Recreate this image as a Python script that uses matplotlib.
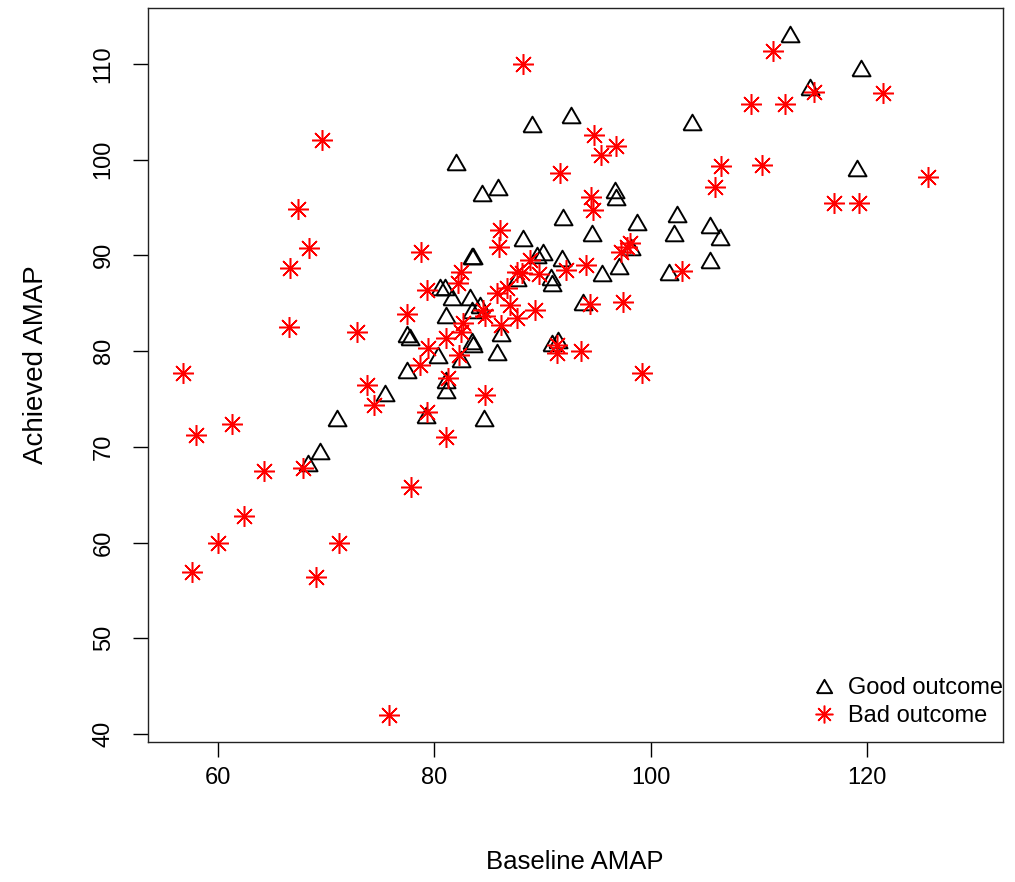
import matplotlib
matplotlib.use('Agg')
import matplotlib.pyplot as plt

plt.rcParams['font.family'] = ['Liberation Sans', 'DejaVu Sans']

# Good outcome (triangles)
good_baseline = [112.9, 114.7, 119.5, 119.1, 103.8, 92.6, 89.0, 82.0, 84.4, 85.9,
                 91.9, 96.7, 96.8, 98.7, 102.4, 102.2, 105.5, 106.4, 105.5, 101.7,
                 94.6, 95.5, 97.1, 98.2, 93.7, 91.8, 91.4, 88.2, 89.5, 90.0,
                 83.5, 83.6, 90.8, 90.9, 87.6, 80.5, 81.0, 81.6, 83.3, 84.2,
                 83.5, 81.1, 77.5, 77.7, 83.5, 83.6, 86.2, 85.8, 80.3, 82.5,
                 77.5, 81.1, 81.1, 75.4, 79.2, 84.6, 71.0, 69.4, 68.3, 90.9]
good_achieved = [113.1, 107.6, 109.6, 99.1, 103.9, 104.7, 103.7, 99.8, 96.5, 97.1,
                 94.0, 96.8, 96.1, 93.5, 94.3, 92.3, 93.2, 91.9, 89.5, 88.3,
                 92.3, 88.2, 88.9, 90.9, 85.1, 89.7, 81.2, 91.8, 90.0, 90.3,
                 89.9, 89.9, 87.7, 87.1, 87.6, 86.7, 86.7, 85.7, 85.7, 84.8,
                 84.3, 83.8, 81.8, 81.5, 81.0, 80.7, 81.9, 79.9, 79.6, 79.2,
                 78.0, 77.0, 75.9, 75.6, 73.3, 73.0, 73.0, 69.6, 68.3, 80.8]

# Bad outcome (asterisks)
bad_baseline = [88.2, 69.6, 91.6, 67.4, 68.4, 66.6, 66.5, 72.8, 78.8, 86.1,
                86.0, 82.5, 82.2, 79.3, 77.5, 89.3, 87.6, 87.0, 85.8, 86.7,
                88.8, 89.7, 87.6, 88.1, 92.2, 94.0, 84.5, 84.7, 82.6, 82.5,
                86.2, 81.1, 79.4, 78.7, 82.3, 91.3, 91.3, 93.6, 56.7, 57.9,
                61.3, 64.2, 67.8, 62.4, 60.0, 57.6, 71.2, 69.0, 73.8, 74.4,
                77.8, 75.8, 81.3, 79.3, 81.1, 84.7, 99.2, 111.3, 115.1, 121.5,
                109.3, 112.4, 94.8, 96.8, 95.4, 106.5, 110.3, 106.0, 125.7, 117.0,
                119.3, 94.5, 94.7, 98.1, 97.8, 97.3, 102.9, 94.4, 97.4]
bad_achieved = [110.0, 102.0, 98.6, 94.8, 90.8, 88.7, 82.5, 82.0, 90.3, 92.7,
                90.9, 88.3, 87.1, 86.4, 83.9, 84.3, 83.5, 84.8, 86.1, 86.6,
                89.5, 88.0, 88.3, 88.2, 88.5, 89.0, 84.3, 83.7, 82.9, 82.0,
                82.7, 81.4, 80.3, 78.5, 79.6, 80.6, 79.8, 80.0, 77.7, 71.2,
                72.4, 67.5, 67.8, 62.8, 60.0, 56.9, 60.0, 56.4, 76.5, 74.4,
                65.8, 42.0, 77.2, 73.6, 71.0, 75.4, 77.7, 111.4, 107.1, 107.0,
                105.8, 105.8, 102.6, 101.4, 100.5, 99.3, 99.4, 97.1, 98.2, 95.5,
                95.5, 96.1, 94.7, 91.3, 90.9, 90.3, 88.4, 84.9, 85.1]

xticks = [60, 80, 100, 120]
yticks = [40, 50, 60, 70, 80, 90, 100, 110]

tri = [(-1.0, -0.866), (1.0, -0.866), (0.0, 0.866), (-1.0, -0.866)]
star = (8, 2, 0)

fig = plt.figure(figsize=(10.15, 8.82), dpi=100)
ax = fig.add_axes([148 / 1015, 1 - 742 / 882, 855 / 1015, 734 / 882])

ax.plot(good_baseline, good_achieved, linestyle='none', marker=tri, markersize=13,
        mfc='none', mec='black', mew=1.4, label='Good outcome')
ax.plot(bad_baseline, bad_achieved, linestyle='none', marker=star, markersize=15,
        mec='red', color='red', mew=1.1, label='Bad outcome')

ax.set_xlim(53.5, 132.6)
ax.set_ylim(39.16, 115.84)
ax.set_xticks(xticks)
ax.set_yticks(yticks)
ax.tick_params(axis='both', direction='out', length=11, width=1.0, labelsize=17, color='black')
ax.tick_params(axis='x', pad=7)
ax.tick_params(axis='y', pad=13, labelrotation=90)
for lab in ax.get_yticklabels():
    lab.set_va('center')
for s in ax.spines.values():
    s.set_linewidth(1.0)
    s.set_color('#222222')

fig.text(575 / 1015, 1 - 862 / 882, 'Baseline AMAP', ha='center', va='center', fontsize=18.5)
fig.text(36 / 1015, 1 - 365 / 882, 'Achieved AMAP', ha='center', va='center',
         rotation=90, fontsize=20)

ax.legend(loc='lower right', bbox_to_anchor=(1.0, 0.02), frameon=False, fontsize=17,
          borderpad=0, borderaxespad=0, handlelength=1.0, handletextpad=0.5,
          labelspacing=0.25, markerscale=0.85)

fig.savefig('out.png', dpi=100)
